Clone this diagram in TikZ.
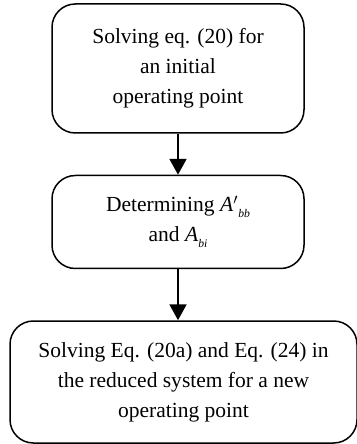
\documentclass[tikz,border=0pt]{standalone}
\usepackage{fontspec}
\setmainfont{Liberation Serif}
\usetikzlibrary{arrows.meta, positioning}

\begin{document}
\begin{tikzpicture}[
  x=1pt, y=1pt,
  node distance=24.6pt,
  flowbox/.style={rectangle, draw, line width=0.9pt, rounded corners=14pt,
                  align=center, inner sep=0pt, font=\fontsize{12.9}{18}\selectfont},
  arr/.style={-{Triangle[width=10pt,length=9.5pt]}, line width=1.6pt}
]
\useasboundingbox (0,0) rectangle (213.6,-266.4);

%% --- three steps, top to bottom ---
\node[flowbox, minimum width=151.2pt, minimum height=77.4pt] (init) at (106.8,-41.1)
  {Solving eq. (20) for\\an initial\\operating point};
\node[flowbox, minimum width=151.2pt, minimum height=55.8pt, below=of init] (amat)
  {Determining \textit{A}$'$\raisebox{-0.6ex}{\scriptsize\textit{bb}}\\and \textit{A}\raisebox{-0.6ex}{\scriptsize\textit{bi}}};
\node[flowbox, minimum width=208.2pt, minimum height=73.2pt, below=30.6pt of amat,
      xshift=3.3pt] (newop)
  {Solving Eq. (20a) and Eq. (24) in\\the reduced system for a new\\operating point};

\draw[arr] (init) -- (amat);
\draw[arr] (amat) -- (amat |- newop.north);

\end{tikzpicture}
\end{document}
